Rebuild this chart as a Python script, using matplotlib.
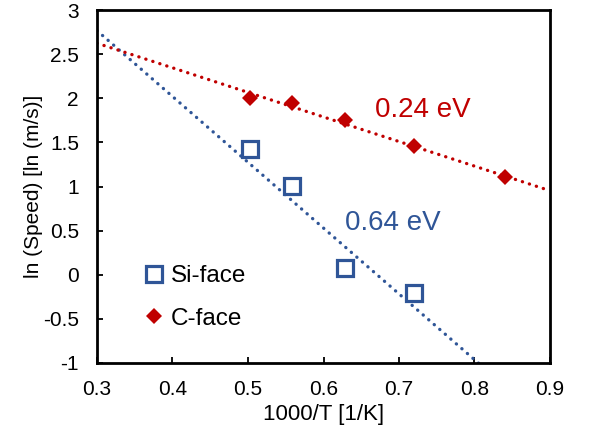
import matplotlib
matplotlib.use("Agg")
import matplotlib.pyplot as plt
import numpy as np

plt.rcParams['font.family'] = ['Liberation Sans', 'DejaVu Sans']

# Data
si_x = [0.502, 0.558, 0.629, 0.720]
si_y = [1.425, 1.009, 0.073, -0.210]
c_x = [0.502, 0.558, 0.629, 0.720, 0.840]
c_y = [2.00, 1.943, 1.754, 1.462, 1.104]

# Trendline coefficients (slope, intercept) as drawn
si_fit = [-7.457, 5.003]
c_fit = [-2.785, 3.459]

xticks = [0.3, 0.4, 0.5, 0.6, 0.7, 0.8, 0.9]
yticks = [-1, -0.5, 0, 0.5, 1, 1.5, 2, 2.5, 3]

blue = '#2F5597'
red = '#C00000'

fig = plt.figure(figsize=(5.89, 4.41), dpi=100)
ax = fig.add_axes([97/589, 1-363/441, (550-97)/589, (363-10)/441])

xx = np.array([0.3, 0.9])
lw = 2.4
dot = (0, (0.05, 2.15))
ax.plot(xx, np.polyval(si_fit, xx), color=blue, lw=lw, linestyle=dot,
        dash_capstyle='round', zorder=2)
ax.plot(xx, np.polyval(c_fit, xx), color=red, lw=lw, linestyle=dot,
        dash_capstyle='round', zorder=2)

ax.plot(si_x, si_y, linestyle='none', marker='s', ms=11, mew=2.3,
        mfc='white', mec=blue, label='Si-face', zorder=3)
ax.plot(c_x, c_y, linestyle='none', marker='D', ms=8, mew=0,
        mfc=red, mec=red, label='C-face', zorder=3)

ax.set_xlim(0.3, 0.9)
ax.set_ylim(-1, 3)
ax.set_xticks(xticks)
ax.set_yticks(yticks)
ax.set_xticklabels([f'{v:g}' for v in xticks])
ax.set_yticklabels([f'{v:g}' for v in yticks])
ax.tick_params(direction='in', length=4, width=1.3, labelsize=15,
               colors='black')
ax.tick_params(axis='x', pad=12)
ax.tick_params(axis='y', pad=13)
for s in ax.spines.values():
    s.set_linewidth(2)
    s.set_color('black')

ax.set_xlabel('1000/T [1/K]', fontsize=16, labelpad=4)
ax.set_ylabel('ln (Speed) [ln (m/s)]', fontsize=15, labelpad=0)

ax.text(0.668, 1.867, '0.24 eV', color=red, fontsize=20, va='center', ha='left')
ax.text(0.6285, 0.586, '0.64 eV', color=blue, fontsize=20, va='center', ha='left')

leg = ax.legend(loc='upper left', bbox_to_anchor=(0.082, 0.305), frameon=False,
                fontsize=17.5, handlelength=0.8, handletextpad=0.3,
                labelspacing=0.85, borderaxespad=0)

fig.savefig('out.png', dpi=100)
